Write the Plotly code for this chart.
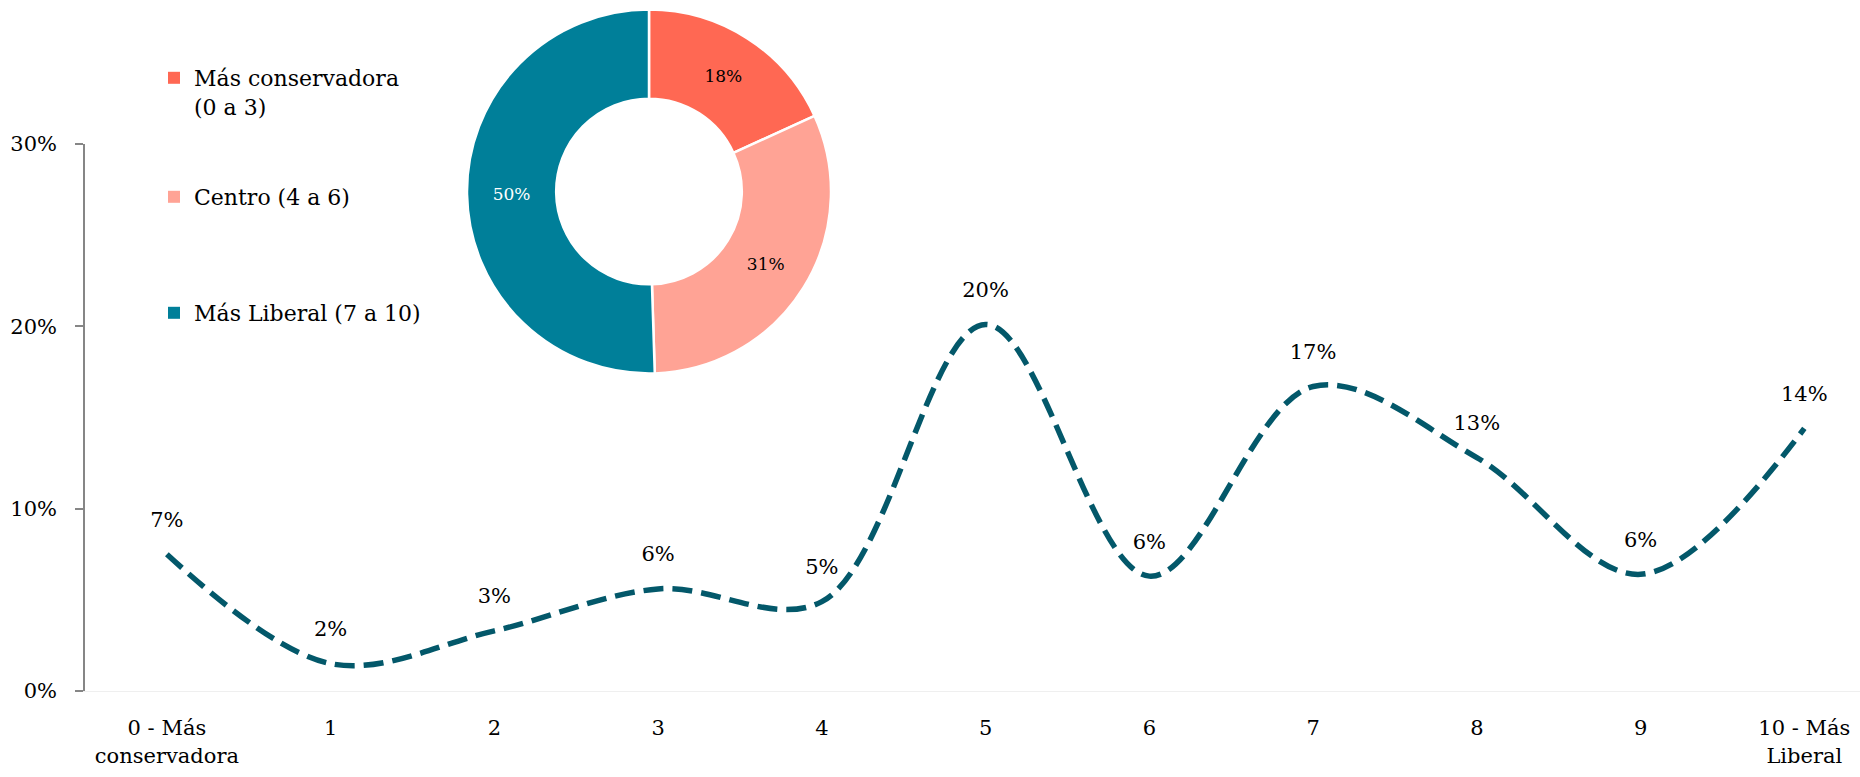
import plotly.graph_objects as go

# ---- data ----
categories = ["0 - Más<br>conservadora", "1", "2", "3", "4", "5", "6", "7", "8", "9", "10 - Más<br>Liberal"]
shares = [0.075, 0.015, 0.033, 0.056, 0.049, 0.201, 0.063, 0.167, 0.128, 0.064, 0.144]
share_labels = ["7%", "2%", "3%", "6%", "5%", "20%", "6%", "17%", "13%", "6%", "14%"]

donut_labels = ["Más conservadora<br>(0 a 3)", "Centro (4 a 6)", "Más Liberal (7 a 10)"]
donut_values = [18, 31, 50]
donut_colors = ["#FF6853", "#FFA395", "#007F99"]
donut_text_colors = ["#000000", "#000000", "#FFFFFF"]

y_ticks = [0, 0.1, 0.2, 0.3]

FONT = "DejaVu Serif"
W, H = 1860, 777

fig = go.Figure()

fig.add_trace(go.Scatter(
    x=list(range(len(categories))),
    y=shares,
    mode="lines+markers+text",
    line=dict(color="#03586A", width=5.5, shape="spline", smoothing=1, dash="20px,9px"),
    marker=dict(size=34, opacity=0),
    text=share_labels,
    textposition="top center",
    textfont=dict(family=FONT, size=21, color="#000000"),
    showlegend=False,
    hoverinfo="skip",
))

fig.add_trace(go.Pie(
    labels=donut_labels,
    values=donut_values,
    hole=0.51,
    sort=False,
    direction="clockwise",
    rotation=0,
    marker=dict(colors=donut_colors, line=dict(color="white", width=2.5)),
    texttemplate="%{value}%",
    textposition="inside",
    insidetextorientation="horizontal",
    textfont=dict(family=FONT, size=17, color=donut_text_colors),
    domain=dict(x=[467 / W, 831 / W], y=[1 - 374 / H, 1 - 9 / H]),
    showlegend=False,
    hoverinfo="skip",
))

# legend entries (one per donut group), each in its own legend box
legend_names = ["legend", "legend2", "legend3"]
for lab, col, lg in zip(donut_labels, donut_colors, legend_names):
    fig.add_trace(go.Scatter(
        x=[None], y=[None], mode="markers",
        marker=dict(symbol="square", size=12, color=col),
        name=lab, showlegend=True, legend=lg,
    ))

legend_tops = [57, 176, 292]
legend_common = dict(
    x=154 / W, xanchor="left", yanchor="top",
    font=dict(family=FONT, size=22, color="#000000"),
    valign="top",
    bgcolor="rgba(0,0,0,0)",
)

fig.update_layout(
    width=W, height=H,
    margin=dict(l=0, r=0, t=0, b=0),
    paper_bgcolor="white",
    plot_bgcolor="white",
    font=dict(family=FONT, size=21, color="#000000"),
    legend=dict(y=1 - legend_tops[0] / H, **legend_common),
    legend2=dict(y=1 - legend_tops[1] / H, **legend_common),
    legend3=dict(y=1 - legend_tops[2] / H, **legend_common),
    xaxis=dict(
        domain=[85 / W, 1],
        range=[-0.5, 10.34],
        tickmode="array",
        tickvals=list(range(len(categories))),
        ticktext=categories,
        showgrid=False,
        zeroline=False,
        showline=True,
        linecolor="#EFEFEF",
        linewidth=1,
        ticks="",
        ticklabelstandoff=18,
        tickfont=dict(family=FONT, size=21, color="#000000"),
        automargin=False,
        fixedrange=True,
    ),
    yaxis=dict(
        domain=[1 - 691 / H, 1 - 144 / H],
        range=[0, 0.3],
        tickvals=y_ticks,
        tickformat=".0%",
        showgrid=False,
        zeroline=False,
        showline=True,
        linecolor="#868686",
        linewidth=1.5,
        ticks="outside",
        ticklen=8,
        tickwidth=1.5,
        tickcolor="#868686",
        ticklabelstandoff=14,
        tickfont=dict(family=FONT, size=21, color="#000000"),
        automargin=False,
        fixedrange=True,
    ),
)

fig.write_html(
    "out.html",
    config={"displayModeBar": False},
    post_script="document.body.style.margin='0';document.body.style.overflow='hidden';",
)
